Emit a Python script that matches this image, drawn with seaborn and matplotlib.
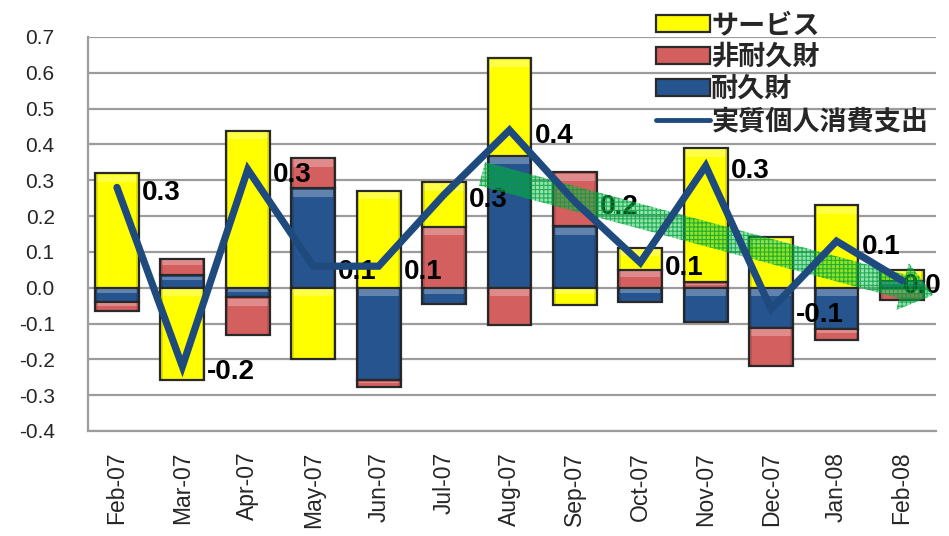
import numpy as np
import pandas as pd
import matplotlib
matplotlib.use("Agg")
import matplotlib.pyplot as plt
import seaborn as sns
from matplotlib.patches import Patch, FancyArrowPatch, Rectangle
from matplotlib.lines import Line2D

# ---- data -------------------------------------------------------------
months = ["Feb-07", "Mar-07", "Apr-07", "May-07", "Jun-07", "Jul-07", "Aug-07",
          "Sep-07", "Oct-07", "Nov-07", "Dec-07", "Jan-08", "Feb-08"]
durable = [-0.040, 0.035, -0.027, 0.278, -0.258, -0.045, 0.369,
           0.171, -0.040, -0.095, -0.112, -0.114, 0.020]
nondurable = [-0.024, 0.045, -0.106, 0.084, -0.018, 0.170, -0.103,
              0.151, 0.050, 0.015, -0.107, -0.031, -0.035]
services = [0.320, -0.257, 0.438, -0.198, 0.271, 0.125, 0.271,
            -0.048, 0.062, 0.375, 0.141, 0.230, 0.030]
real_pce = [0.28, -0.22, 0.33, 0.06, 0.06, 0.26, 0.44,
            0.24, 0.07, 0.34, -0.06, 0.13, 0.02]
y_ticks = [-0.4, -0.3, -0.2, -0.1, 0.0, 0.1, 0.2, 0.3, 0.4, 0.5, 0.6, 0.7]

series_names = ["耐久財", "非耐久財", "サービス"]
line_name = "実質個人消費支出"

# ---- style ------------------------------------------------------------
sns.set_style("white")
plt.rcParams["font.family"] = ["Liberation Sans", "DejaVu Sans"]
plt.rcParams["hatch.linewidth"] = 0.8

colors = {"耐久財": "#26548F", "非耐久財": "#D45F5F", "サービス": "#FFFF00"}
line_color = "#1F4A7E"
edge = "#2a2a2a"
grid_color = "#9c9c9c"

fig = plt.figure(figsize=(9.49, 5.36), dpi=100)
ax = fig.add_axes([0.0927, 0.196, 0.8936, 0.735])

# ---- stacked columns (positives stack up, negatives stack down) -------
pos_base = np.zeros(len(months))
neg_base = np.zeros(len(months))
for name, vals in zip(series_names, [durable, nondurable, services]):
    vals = np.asarray(vals)
    bottom = np.where(vals >= 0, pos_base, neg_base)
    df = pd.DataFrame({"month": months, "value": vals})
    sns.barplot(data=df, x="month", y="value", order=months, bottom=bottom,
                color=colors[name], saturation=1, width=0.67, errorbar=None,
                edgecolor=edge, linewidth=1.6, ax=ax, zorder=2)
    pos_base = pos_base + np.where(vals >= 0, vals, 0)
    neg_base = neg_base + np.where(vals < 0, vals, 0)

# soft bevel on every column segment: light top strip, darker sides
bar_rects = [p for p in ax.patches if isinstance(p, Rectangle)]
for r in bar_rects:
    x0, w = r.get_x(), r.get_width()
    y0, h = r.get_y(), r.get_height()
    lo, hi = min(y0, y0 + h), max(y0, y0 + h)
    span = hi - lo
    if span <= 0:
        continue
    strip = min(0.02, span * 0.3)
    ax.add_patch(Rectangle((x0 + 0.03, hi - strip - 0.004), w - 0.06, strip,
                           facecolor="white", alpha=0.28, linewidth=0, zorder=2.1))
    side = 0.04
    ax.add_patch(Rectangle((x0, lo), side, span, facecolor="black",
                           alpha=0.12, linewidth=0, zorder=2.1))
    ax.add_patch(Rectangle((x0 + w - side, lo), side, span, facecolor="black",
                           alpha=0.12, linewidth=0, zorder=2.1))

# ---- real PCE line ----------------------------------------------------
x_pos = np.arange(len(months))
sns.lineplot(x=x_pos, y=real_pce, color=line_color, linewidth=5.2, ax=ax,
             zorder=4, solid_joinstyle="miter")

for i, v in enumerate(real_pce):
    # keep the last label inside the plotting area
    dx = 18 if i < len(months) - 1 else 1
    ax.annotate(f"{v:.1f}", (i, v), xytext=(dx, -4), textcoords="offset points",
                ha="left", va="center", fontsize=20, fontweight="bold",
                color="black", zorder=2.5)

# ---- trend arrow ------------------------------------------------------
arrow = FancyArrowPatch((5.58, 0.318), (12.48, -0.02),
                        arrowstyle="simple,tail_width=1.75,head_width=3.5,head_length=2.3",
                        mutation_scale=10, shrinkA=0, shrinkB=0,
                        facecolor=(0.05, 0.75, 0.30, 0.45),
                        edgecolor=(0.0, 0.62, 0.22, 0.75), linewidth=0,
                        hatch="++++", zorder=3)
ax.add_patch(arrow)

# ---- axes -------------------------------------------------------------
ax.set_xlim(-0.443, 12.52)
ax.set_ylim(-0.4, 0.7)
ax.set_yticks(y_ticks)
ax.set_yticklabels([f"{t:.1f}" for t in y_ticks], fontsize=15)
ax.yaxis.grid(True, color=grid_color, linewidth=1.6, zorder=0)
ax.xaxis.grid(False)
ax.set_axisbelow(True)
ax.tick_params(axis="y", length=0, pad=24)
ax.tick_params(axis="x", length=0, pad=15)
ax.set_xticks(x_pos)
ax.set_xticklabels(months, rotation=90, fontsize=16.5)
ax.set_xlabel("")
ax.set_ylabel("")
for side in ["top", "right"]:
    ax.spines[side].set_visible(False)
for side in ["left", "bottom"]:
    ax.spines[side].set_color(grid_color)
    ax.spines[side].set_linewidth(1.6)

# ---- legend -----------------------------------------------------------
handles = [Patch(facecolor=colors["サービス"], edgecolor=edge, linewidth=1.6),
           Patch(facecolor=colors["非耐久財"], edgecolor=edge, linewidth=1.6),
           Patch(facecolor=colors["耐久財"], edgecolor=edge, linewidth=1.6),
           Line2D([0], [0], color=line_color, linewidth=3.5)]
labels = ["サービス", "非耐久財", "耐久財", line_name]
fig.legend(handles, labels, loc="upper left", bbox_to_anchor=(0.674, 1.01),
           frameon=False, handlelength=2.0, handleheight=0.6, handletextpad=0.05,
           labelspacing=0.15, borderpad=0.1,
           prop={"family": ["Noto Sans CJK JP", "DejaVu Sans"], "weight": "bold", "size": 19.5})

fig.savefig("out.png", dpi=100)
